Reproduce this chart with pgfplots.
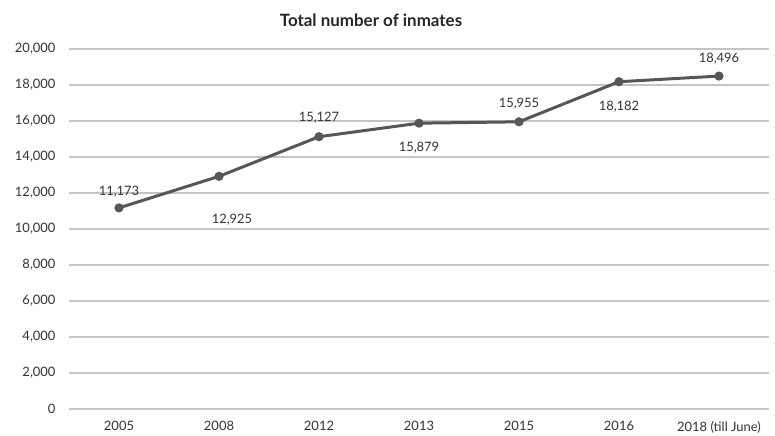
\documentclass[border=0pt]{standalone}
\usepackage{pgfplots}
\pgfplotsset{compat=1.18}
\usepackage{fontspec}
\setmainfont{Lato}
\usetikzlibrary{calc}
\definecolor{lineg}{HTML}{575757}
\definecolor{gridg}{HTML}{C4C4C8}
\definecolor{txtg}{HTML}{333333}
\begin{document}
\begin{tikzpicture}
\begin{axis}[
  name=ax,
  scale only axis,
  width=700bp, height=360bp,
  xmin=-0.5, xmax=6.5,
  ymin=0, ymax=20000,
  xtick={0,...,6},
  xticklabels={2005,2008,2012,2013,2015,2016,2018 (till June)},
  ytick={0,2000,...,20000},
  /pgf/number format/assume math mode=true,
  /pgf/number format/1000 sep={,},
  scaled y ticks=false,
  axis line style={draw=none},
  major tick length=0pt,
  ymajorgrids,
  grid style={gridg, line width=1.6bp},
  tick label style={font=\fontsize{13}{15}\selectfont, text=txtg},
  yticklabel style={xshift=-10bp},
  xticklabel style={yshift=-8.5bp},
  clip=false,
]
\addplot[lineg, line width=3bp, mark=*, mark size=3bp, mark options={fill=lineg}] coordinates {
  (0,11173) (1,12925) (2,15127) (3,15879) (4,15955) (5,18182) (6,18496)
};
\begin{scope}[every node/.style={font=\fontsize{13}{15}\selectfont, text=txtg}]
\node at (axis cs:0,12100) {11,173};
\node at (axis cs:1.13,10500) {12,925};
\node at (axis cs:2,16200) {15,127};
\node at (axis cs:3,14500) {15,879};
\node at (axis cs:4,16950) {15,955};
\node at (axis cs:5,16800) {18,182};
\node at (axis cs:6,19450) {18,496};
\end{scope}
\node[font=\bfseries\fontsize{17}{19}\selectfont, text=black!85] at ($(rel axis cs:0.5,1)+(-48bp,29bp)$) {Total number of inmates};
\end{axis}
\pgfresetboundingbox
\path[use as bounding box] ($(ax.south west)+(-69bp,-26bp)$) rectangle ($(ax.north east)+(6bp,49bp)$);
\end{tikzpicture}
\end{document}
